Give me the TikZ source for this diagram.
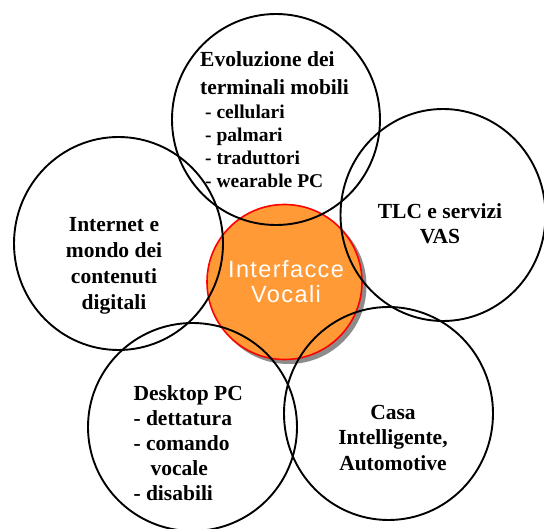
\documentclass[tikz,border=0pt]{standalone}
\usepackage{fontspec}
\setmainfont{Liberation Serif}
\newfontfamily\hubfont[LetterSpace=6]{Liberation Sans}
\usetikzlibrary{shapes.geometric}

\definecolor{hubfill}{HTML}{FF9A36}
\definecolor{hubshadow}{HTML}{8C8C8C}

\tikzset{
  topic/.style={draw=black, line width=1.9pt, ellipse, inner sep=0pt},
  hub/.style={circle, fill=hubfill, draw=red, line width=1.6pt,
              minimum size=155pt, inner sep=0pt},
  hubshade/.style={circle, fill=hubshadow, minimum size=156pt, inner sep=0pt},
  label/.style={inner sep=0pt, font=\bfseries},
}

\begin{document}
\begin{tikzpicture}[x=1pt, y=-1pt]
  \useasboundingbox (0,0) rectangle (544,529);
  \clip (0,0) rectangle (544,529);

  % central hub with its drop shadow
  \node[hubshade] (hubsh) at (288.5,286) {};
  \node[hub] (hub) at (284.5,282) {};

  % surrounding topic circles, drawn over the hub
  \node[topic, minimum width=208pt, minimum height=211pt] (mobile) at (276,119.5) {};
  \node[topic, minimum width=209pt, minimum height=213pt] (web)    at (118.5,243.5) {};
  \node[topic, minimum width=205pt, minimum height=212pt] (tlc)    at (443,215) {};
  \node[topic, minimum width=209pt, minimum height=213pt] (home)   at (388.5,413.5) {};
  \node[topic, minimum width=209pt, minimum height=208pt] (desk)   at (192.5,427) {};

  % hub label
  \node[inner sep=0pt, anchor=base, text=white] (hubtxt) at (286,277.5)
    {\hubfont\fontsize{23.5}{25}\selectfont
     \begin{tabular}[t]{@{}c@{}}Interfacce\\ Vocali\end{tabular}};

  % topic labels
  \node[label, anchor=base west] (mobiletxt) at (200,66.7)
    {\fontsize{19.5}{23}\selectfont
     \begin{tabular}[t]{@{}l@{}}
       {\fontsize{21.5}{25}\selectfont Evoluzione dei}\\[4.5pt]
       {\fontsize{21.5}{25}\selectfont terminali mobili}\\[1.5pt]
       \hspace{5pt}- cellulari\\
       \hspace{5pt}- palmari\\
       \hspace{5pt}- traduttori\\
       \hspace{5pt}- wearable PC
     \end{tabular}};

  \node[label, anchor=base] (webtxt) at (114,231.7)
    {\fontsize{21.5}{26}\selectfont
     \begin{tabular}[t]{@{}c@{}}Internet e\\ mondo dei\\ contenuti\\ digitali\end{tabular}};

  \node[label, anchor=base] (tlctxt) at (440,219)
    {\fontsize{21.5}{25}\selectfont
     \begin{tabular}[t]{@{}c@{}}TLC e servizi\\ VAS\end{tabular}};

  \node[label, anchor=base] (hometxt) at (393,419.3)
    {\fontsize{21.5}{25.5}\selectfont
     \begin{tabular}[t]{@{}c@{}}Casa\\ Intelligente,\\ Automotive\end{tabular}};

  \node[label, anchor=base west] (desktxt) at (133.3,401)
    {\fontsize{21.5}{25}\selectfont
     \begin{tabular}[t]{@{}l@{}}Desktop PC\\ - dettatura\\ - comando\\ \hspace{17pt}vocale\\ - disabili\end{tabular}};
\end{tikzpicture}
\end{document}
